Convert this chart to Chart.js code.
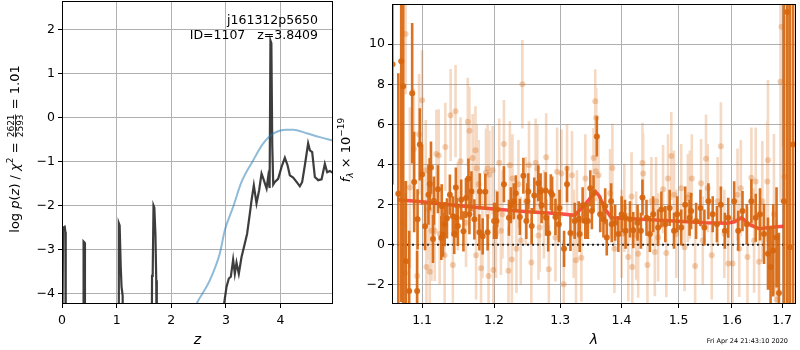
<!DOCTYPE html>
<html>
<head>
<meta charset="utf-8">
<script src="https://cdn.jsdelivr.net/npm/chart.js@4.4.0/dist/chart.umd.min.js"></script>
<style>
  body { margin: 0; background: #fff; }
  #wrap { position: relative; width: 800px; height: 350px; }
  canvas { position: absolute; top: 0; }
</style>
</head>
<body>
<div id="wrap">
  <canvas id="pz" width="340" height="350" style="left:0;width:340px;height:350px"></canvas>
  <canvas id="spec" width="470" height="350" style="left:330px;width:470px;height:350px"></canvas>
</div>
<script>
// ---- left panel: log p(z) ----
const zTicks = [0, 1, 2, 3, 4];
const logpTicks = [-4, -3, -2, -1, 0, 1, 2];

const zLine = [0, 0.015, 0.02, 0.05, 0.062, 0.068,
    0.385, 0.395, 0.41, 0.42,
    1.03, 1.04, 1.055, 1.075, 1.09, 1.11, 1.12,
    1.64, 1.648, 1.66, 1.675, 1.69, 1.71, 1.725, 1.735,
    2.95, 2.967, 3.011, 3.053, 3.09, 3.132, 3.163, 3.194, 3.236, 3.286, 3.346,
    3.388, 3.438, 3.469, 3.511, 3.56, 3.608, 3.652, 3.694, 3.744, 3.773, 3.80,
    3.815, 3.832, 3.848, 3.866, 3.896, 3.956, 4.018, 4.079, 4.128, 4.17, 4.231,
    4.293, 4.353, 4.396, 4.445, 4.505, 4.537, 4.579, 4.628, 4.689, 4.751, 4.811,
    4.853, 4.903, 4.963];
const logpLine = [-6, -6, -2.5, -2.48, -2.6, -6,
    -6, -2.82, -2.84, -6,
    -6, -2.4, -2.45, -3.4, -3.85, -4.05, -6,
    -6, -3.6, -3.55, -2.0, -2.05, -2.65, -3.7, -6,
    -6, -4.23, -3.85, -3.66, -3.62, -3.23, -3.55, -3.30, -3.55, -3.17, -2.86,
    -2.64, -2.18, -1.88, -1.54, -1.95, -1.65, -1.27, -1.42, -1.61, -1.35, -1.6,
    1.76, 1.7, -0.6, -1.52, -1.46, -1.39, -1.12, -0.91, -1.08, -1.31, -1.36,
    -1.46, -1.56, -1.46, -1.08, -0.58, -0.74, -0.78, -1.35, -1.42, -1.40, -1.05,
    -1.24, -1.21, -1.26];

const zPrior = [2.2, 2.46, 2.705, 2.888, 2.98, 3.132, 3.286, 3.498, 3.68, 3.864, 4.11, 4.23, 4.476, 4.72, 4.963];
const logPrior = [-5, -4.24, -3.70, -3.09, -2.56, -2.03, -1.46, -0.97, -0.59, -0.36, -0.27, -0.27, -0.35, -0.44, -0.52];

// ---- right panel: spectrum ----
const lamTicks = [1.1, 1.2, 1.3, 1.4, 1.5, 1.6, 1.7];
const fluxTicks = [-2, 0, 2, 4, 6, 8, 10];

const darkLam = [1.0613, 1.0688, 1.0726, 1.0752, 1.0787, 1.0830, 1.0869, 1.0895, 1.0934, 1.0970,
    1.1040, 1.1085, 1.1119, 1.1159, 1.1213, 1.1259, 1.1281, 1.1336, 1.1376, 1.1417,
    1.1458, 1.1486, 1.1533, 1.1564, 1.1634, 1.1676, 1.1718, 1.1789, 1.1836, 1.1874,
    1.1907, 1.2036, 1.2144, 1.2246, 1.2320, 1.2380, 1.2433, 1.2478, 1.2508, 1.2559,
    1.2598, 1.2659, 1.2710, 1.2772, 1.2812, 1.2853, 1.2925, 1.2988, 1.3060, 1.3107,
    1.3161, 1.3229, 1.3309, 1.3357, 1.3442, 1.3481, 1.3534, 1.3588, 1.3644, 1.3697,
    1.3752, 1.3825, 1.3892, 1.3946, 1.4002, 1.4069, 1.4144, 1.4200, 1.4274, 1.4332,
    1.4359, 1.4429, 1.4488, 1.4546, 1.4633, 1.4691, 1.4761, 1.4839, 1.4917, 1.4975,
    1.5048, 1.5120, 1.5200, 1.5229, 1.5321, 1.5402, 1.5476, 1.5551, 1.5632, 1.5712,
    1.5787, 1.5863, 1.5928, 1.6043, 1.6121, 1.6205, 1.6289, 1.6380, 1.6466, 1.6552,
    1.6632, 1.6712, 1.6765, 1.6819, 1.6886, 1.6935, 1.7037, 1.7104, 1.7160, 1.7227,
    // second pass over the blue-side half
    1.0940, 1.1000, 1.1102, 1.1146, 1.1265, 1.1304, 1.1436, 1.1469, 1.1600, 1.1648,
    1.1795, 1.2000, 1.2047, 1.2218, 1.2290, 1.2493, 1.2695, 1.2780, 1.2873, 1.2978,
    1.3293, 1.3400, 1.3507, 1.3726, 1.3835, 1.4059];
const darkFlux = [9.0, 2.55, 9.15, 7.9, -0.82, -2.3, 7.55, 3.13, -2.3, 5.0,
    0.93, 2.5, 3.85, 2.2, 2.77, 0.34, 0.5, 1.32, 2.5, 1.42,
    2.85, 0.94, 2.25, 0.67, 3.3, 2.66, 1.27, 0.62, 0.42, 2.64,
    0.62, 1.19, 3.02, 1.97, 2.57, 1.39, 3.44, 1.19, 2.66, 0.94,
    2.46, 3.07, 1.97, 2.71, 0.57, 2.62, 1.39, 1.84, -0.2, 3.02,
    0.59, 1.19, 0.54, 1.97, 1.19, 2.82, 2.57, 5.4, 1.52, 1.27,
    0.37, 2.17, 1.1, 0.54, 1.52, 0.7, 1.27, 0.73, 1.1, 0.7,
    2.36, 1.35, 0.54, 1.52, 0.86, 1.76, 1.03, 1.84, 0.7, 1.52,
    0.86, 2.0, 1.35, 1.68, 1.19, 1.84, 0.86, 2.17, 1.52, 1.03,
    2.0, 0.7, 1.35, 2.17, 0.7, 1.68, 1.03, 2.17, 1.35, 1.52,
    0.54, -0.44, -1.1, -0.28, 0.37, -2.4, 2.17, 11.6, -0.12, 5.0,
    1.27, 3.5, 3.03, 0.29, 1.92, 1.03, 0.54, 1.35, 2.33, 1.52,
    2.66, 1.19, 1.76, 1.35, 2.17, 2.17, 2.66, 1.35, 2.5, 1.03,
    1.27, 1.19, 1.68, 1.92, 1.03, 1.35];
const darkErr = [6, 6, 12, 11, 4, 3, 3.5, 2.5, 2, 1.8,
    1.2, 1.5, 1.3, 1.2, 1.2, 1.1, 1.1, 1.0, 1.0, 1.0,
    1.0, 1.0, 1.0, 1.0, 1.0, 1.0, 1.0, 0.9, 0.9, 0.9,
    0.9, 0.9, 0.9, 0.9, 0.9, 0.9, 0.9, 0.9, 0.9, 0.9,
    0.9, 0.9, 0.9, 0.9, 0.9, 0.9, 0.9, 0.9, 0.9, 0.9,
    0.9, 0.9, 0.9, 0.9, 0.9, 0.9, 0.9, 1.0, 0.9, 0.9,
    0.9, 0.9, 0.9, 0.9, 0.9, 0.9, 0.9, 0.9, 0.9, 0.9,
    0.9, 0.9, 0.9, 0.9, 0.9, 0.9, 0.9, 0.9, 0.9, 0.9,
    0.9, 0.9, 0.9, 0.9, 0.9, 0.9, 0.9, 0.9, 0.9, 0.9,
    0.9, 0.9, 1.0, 1.0, 1.0, 1.0, 1.0, 1.1, 1.2, 1.3,
    1.5, 1.8, 2, 2.3, 2.5, 3, 15, 15, 15, 20,
    1.5, 1.5, 1.3, 1.2, 1.1, 1.1, 1.0, 1.0, 1.0, 1.0,
    0.9, 0.9, 0.9, 0.9, 0.9, 0.9, 0.9, 0.9, 0.9, 0.9,
    0.9, 0.9, 0.9, 0.9, 0.9, 0.9];

const lightLam = [1.0744, 1.0774, 1.0783, 1.0839, 1.0891, 1.0934, 1.0960, 1.1000, 1.1049, 1.1058,
    1.1093, 1.1102, 1.1125, 1.1169, 1.1192, 1.1223, 1.1236, 1.1304, 1.1314, 1.1386,
    1.1417, 1.1454, 1.1486, 1.1523, 1.1600, 1.1625, 1.1648, 1.1694, 1.1733, 1.1742,
    1.1751, 1.1779, 1.1813, 1.1832, 1.1884, 1.1907, 1.1921, 1.1931, 1.1979, 1.1989,
    1.2028, 1.2075, 1.2100, 1.2123, 1.2144, 1.2211, 1.2232, 1.2261, 1.2270, 1.2329,
    1.2359, 1.2394, 1.2418, 1.2469, 1.2518, 1.2553, 1.2619, 1.2644, 1.2662, 1.2680,
    1.2746, 1.2781, 1.2822, 1.2925, 1.2951, 1.3019, 1.3055, 1.3107, 1.3186, 1.3213,
    1.3250, 1.3265, 1.3336, 1.3400, 1.3534, 1.3562, 1.3571, 1.3578, 1.3616, 1.3808,
    1.3846, 1.3880, 1.4002, 1.4047, 1.4115, 1.4171, 1.4183, 1.4251, 1.4285, 1.4359,
    1.4371, 1.4446, 1.4515, 1.4575, 1.4597, 1.4633, 1.4721, 1.4779, 1.4809, 1.4868,
    1.4917, 1.4958, 1.5048, 1.5109, 1.5169, 1.5206, 1.5242, 1.5303, 1.5413, 1.5445,
    1.5506, 1.5538, 1.5613, 1.5725, 1.5787, 1.5853, 1.5928, 1.6011, 1.6108, 1.6141,
    1.6172, 1.6302, 1.6380, 1.6434, 1.6466, 1.6533, 1.6598, 1.6698, 1.6712, 1.6833,
    1.6886, 1.6967, 1.6987, 1.7049];
const lightFlux = [1.1, -1.42, 10.5, 2.85, 4.78, -1.55, 5.51, 7.2, 3.72, -1.1,
    1.76, -1.34, 0.7, 0.7, 4.53, 4.45, 0.54, -0.52, 4.88, 6.46,
    -1.01, 6.66, 1.92, 4.16, 1.1, 6.13, 5.68, 4.32, 4.71, -0.52,
    3.82, 3.02, -1.17, 0.54, 3.6, 3.8, -1.55, 3.49, 3.72, -1.26,
    0.54, 4.09, 0.7, 1.52, 5.02, -1.29, 3.96, -0.73, 3.31, -0.2,
    3.02, 0.21, 8.0, 2.17, 3.96, -0.88, 4.09, 3.8, 0.46, 0.86,
    1.52, 4.36, -1.22, 0.37, 3.64, 3.55, -1.96, 3.8, 3.47, 0.54,
    -0.77, 1.52, -0.64, 3.31, 4.32, 7.15, 3.67, 6.33, 3.47, 2.57,
    3.83, -0.2, 0.54, 1.84, -0.61, 2.41, -1.1, 0.46, -0.44, 4.08,
    3.55, -1.01, 2.17, -0.36, 2.17, 0.37, 2.77, -0.41, 3.31, 4.42,
    2.5, 0.54, 2.82, -0.12, 2.33, 2.5, 3.31, -1.06, 3.07, 0.21,
    4.29, 2.82, -0.52, 2.17, 4.91, 0.54, -0.93, -0.93, 2.5, -0.2,
    2.82, -0.61, 3.34, 0.21, 3.15, -0.85, 2.17, 3.15, 4.21, 1.52,
    -2.73, 8.12, 10.87, 3.39];
const lightErr = [5, 4, 3, 4, 3, 3, 3, 2.5, 2.5, 2.6,
    2.5, 2.5, 2.5, 2.5, 2.2, 2.3, 2.5, 2.4, 2.2, 2.3,
    2.3, 2.3, 2.2, 2.2, 2.2, 2.2, 2.2, 2.2, 2.2, 2.2,
    2.2, 2.2, 2.2, 2.2, 2.2, 2.2, 2.2, 2.2, 2.2, 2.2,
    2.2, 2.2, 2.2, 2.2, 2.2, 2.2, 2.2, 2.2, 2.2, 2.2,
    2.2, 2.2, 2.2, 2.2, 2.2, 2.2, 2.2, 2.2, 2.2, 2.2,
    2.2, 2.2, 2.2, 2.2, 2.2, 2.2, 2.2, 2.2, 2.2, 2.2,
    2.2, 2.2, 2.2, 2.2, 1.5, 1.6, 1.5, 1.5, 2, 2.2,
    2.2, 2.2, 2.2, 2.2, 2.2, 2.2, 2.2, 2.2, 2.2, 2.0,
    2.0, 2.2, 2.2, 2.2, 2.2, 2.2, 2.2, 2.2, 2.2, 2.2,
    2.2, 2.2, 2.2, 2.2, 2.2, 2.2, 2.2, 2.2, 2.2, 2.2,
    2.2, 2.2, 2.2, 2.2, 2.2, 2.2, 2.3, 2.3, 2.3, 2.4,
    2.4, 2.5, 2.5, 2.6, 2.7, 2.8, 3, 3, 4, 4,
    4, 6, 6, 8];

const modelLam = [1.068, 1.1, 1.15, 1.2, 1.25, 1.3, 1.3229, 1.338, 1.3566, 1.3625, 1.372, 1.383,
    1.4, 1.45, 1.5, 1.55, 1.59, 1.605, 1.6185, 1.635, 1.654, 1.67, 1.69, 1.704];
const modelFlux = [2.25, 2.15, 1.95, 1.78, 1.65, 1.55, 1.47, 1.95, 2.65, 2.45, 1.8, 1.35,
    1.32, 1.25, 1.17, 1.1, 1.07, 1.15, 1.35, 1.0, 0.8, 0.85, 0.9, 0.92];
const zeroLam = [1.0607, 1.705];

const orangeDark = 'rgba(215,102,14,0.92)';
const orangeLight = 'rgba(215,102,14,0.25)';

Chart.defaults.font.family = 'DejaVu Sans';
Chart.defaults.font.size = 12.5;
Chart.defaults.color = '#000';

function pairs(xs, ys) {
    return xs.map((x, i) => ({ x: x, y: ys[i] }));
}

function errSegments(xs, ys, es) {
    const out = [];
    xs.forEach((x, i) => {
        out.push({ x: x, y: ys[i] - es[i] }, { x: x, y: ys[i] + es[i] }, { x: x, y: NaN });
    });
    return out;
}

function minusLabel(v) {
    return v < 0 ? '\u2212' + Math.abs(v) : String(v);
}

function axisGrid() {
    return { color: '#b0b0b0', lineWidth: 1, tickColor: '#000', tickLength: 4, tickWidth: 1 };
}

// fixed axis boxes so the plot areas sit where the reference has them
function fixX(s) {
    s.height = 46;
    s.paddingLeft = 0;
    s.paddingRight = 0;
}
function fixY(s) {
    s.width = 62;
    s.paddingTop = 0;
    s.paddingBottom = 0;
}

// draws a rotated title made of pieces (sub/superscripts and a fraction)
function drawVertical(ctx, x, yc, parts) {
    ctx.save();
    let total = 0;
    parts.forEach(p => {
        ctx.font = (p.italic ? 'italic ' : '') + (p.size || 13) + 'px DejaVu Sans';
        if (p.frac) {
            p.w = Math.max(ctx.measureText(p.frac[0]).width, ctx.measureText(p.frac[1]).width) + 2;
        } else {
            p.w = ctx.measureText(p.t).width;
        }
        total += p.w;
    });
    ctx.translate(x, yc);
    ctx.rotate(-Math.PI / 2);
    ctx.fillStyle = '#000';
    ctx.textBaseline = 'alphabetic';
    let cx = -total / 2;
    parts.forEach(p => {
        ctx.font = (p.italic ? 'italic ' : '') + (p.size || 13) + 'px DejaVu Sans';
        if (p.frac) {
            ctx.textAlign = 'center';
            ctx.fillText(p.frac[0], cx + p.w / 2, -5);
            ctx.fillText(p.frac[1], cx + p.w / 2, 4);
            ctx.fillRect(cx + 1, -4, p.w - 2, 0.8);
            ctx.textAlign = 'left';
        } else {
            ctx.textAlign = 'left';
            ctx.fillText(p.t, cx, p.dy || 0);
        }
        cx += p.w;
    });
    ctx.restore();
}

const framePlugin = {
    id: 'frame',
    afterDatasetsDraw(chart) {
        const { ctx, chartArea: a } = chart;
        ctx.save();
        ctx.strokeStyle = '#000';
        ctx.lineWidth = 1;
        ctx.strokeRect(a.left + 0.5, a.top + 0.5, a.right - a.left - 1, a.bottom - a.top - 1);
        ctx.restore();
    }
};

// ---- left chart ----
new Chart(document.getElementById('pz'), {
    type: 'scatter',
    data: {
        datasets: [
            {
                data: pairs(zPrior, logPrior),
                showLine: true,
                borderColor: 'rgba(31,119,180,0.5)',
                borderWidth: 2,
                pointRadius: 0,
                cubicInterpolationMode: 'monotone'
            },
            {
                data: pairs(zLine, logpLine),
                showLine: true,
                borderColor: 'rgba(40,40,40,0.9)',
                borderWidth: 2.2,
                pointRadius: 0,
                tension: 0
            }
        ]
    },
    options: {
        responsive: false,
        animation: false,
        devicePixelRatio: 1,
        layout: { padding: { top: 1, right: 7, left: 0, bottom: 0 } },
        plugins: { legend: { display: false }, tooltip: { enabled: false } },
        scales: {
            x: {
                type: 'linear',
                min: 0,
                max: 4.96,
                grid: axisGrid(),
                border: { display: false },
                afterBuildTicks: s => { s.ticks = zTicks.map(v => ({ value: v })); },
                afterFit: fixX,
                ticks: { padding: 5, maxRotation: 0, callback: v => minusLabel(v) },
                title: { display: true, text: 'z', font: { style: 'italic', size: 14 }, padding: { top: 0, bottom: 1 } }
            },
            y: {
                type: 'linear',
                min: -4.24,
                max: 2.66,
                grid: axisGrid(),
                border: { display: false },
                afterBuildTicks: s => { s.ticks = logpTicks.map(v => ({ value: v })); },
                afterFit: fixY,
                ticks: { padding: 3, callback: v => minusLabel(v) }
            }
        }
    },
    plugins: [framePlugin, {
        id: 'pzText',
        afterDraw(chart) {
            const ctx = chart.ctx;
            ctx.save();
            ctx.fillStyle = '#000';
            ctx.font = '12.5px DejaVu Sans';
            ctx.textAlign = 'right';
            ctx.fillText('j161312p5650', 318, 24);
            ctx.fillText('ID=1107   z=3.8409', 318, 38.5);
            ctx.restore();
            drawVertical(ctx, 19, 149, [
                { t: 'log ' },
                { t: 'p', italic: true },
                { t: '(' },
                { t: 'z', italic: true },
                { t: ') / ' },
                { t: '\u03c7', italic: true },
                { t: '2', size: 9, dy: -6 },
                { t: ' = ' },
                { frac: ['2621', '2593'], size: 9 },
                { t: ' = 1.01' }
            ]);
        }
    }]
});

// ---- right chart ----
new Chart(document.getElementById('spec'), {
    type: 'scatter',
    data: {
        datasets: [
            {
                data: errSegments(lightLam, lightFlux, lightErr),
                showLine: true,
                spanGaps: false,
                borderColor: orangeLight,
                borderWidth: 2.6,
                pointRadius: 0
            },
            {
                data: pairs(lightLam, lightFlux),
                showLine: false,
                backgroundColor: 'rgba(215,102,14,0.3)',
                borderWidth: 0,
                pointRadius: 3
            },
            {
                data: errSegments(darkLam, darkFlux, darkErr),
                showLine: true,
                spanGaps: false,
                borderColor: orangeDark,
                borderWidth: 2.6,
                pointRadius: 0
            },
            {
                data: pairs(darkLam, darkFlux),
                showLine: false,
                backgroundColor: orangeDark,
                borderWidth: 0,
                pointRadius: 3
            },
            {
                data: pairs(modelLam, modelFlux),
                showLine: true,
                borderColor: 'rgba(255,0,0,0.7)',
                borderWidth: 3.5,
                pointRadius: 0,
                tension: 0
            },
            {
                data: pairs(zeroLam, [0, 0]),
                showLine: true,
                borderColor: 'rgba(0,0,0,0.85)',
                borderWidth: 2,
                borderDash: [2, 3],
                pointRadius: 0
            }
        ]
    },
    options: {
        responsive: false,
        animation: false,
        devicePixelRatio: 1,
        layout: { padding: { top: 1, right: 1, left: 0, bottom: 0 } },
        plugins: { legend: { display: false }, tooltip: { enabled: false } },
        scales: {
            x: {
                type: 'logarithmic',
                min: 1.0607,
                max: 1.7288,
                grid: axisGrid(),
                border: { display: false },
                afterBuildTicks: s => { s.ticks = lamTicks.map(v => ({ value: v })); },
                afterFit: fixX,
                ticks: { padding: 5, maxRotation: 0, autoSkip: false, callback: v => v.toFixed(1) },
                title: { display: true, text: '\u03bb', font: { style: 'italic', size: 14 }, padding: { top: 0, bottom: 1 } }
            },
            y: {
                type: 'linear',
                min: -2.95,
                max: 12.0,
                grid: axisGrid(),
                border: { display: false },
                afterBuildTicks: s => { s.ticks = fluxTicks.map(v => ({ value: v })); },
                afterFit: fixY,
                ticks: { padding: 3, callback: v => minusLabel(v) }
            }
        }
    },
    plugins: [framePlugin, {
        id: 'specText',
        afterDraw(chart) {
            const ctx = chart.ctx;
            drawVertical(ctx, 20, 150, [
                { t: 'f', italic: true },
                { t: '\u03bb', italic: true, size: 9, dy: 3 },
                { t: ' \u00d7 10' },
                { t: '\u221219', size: 9, dy: -6 }
            ]);
            ctx.save();
            ctx.fillStyle = '#000';
            ctx.font = '6.5px DejaVu Sans';
            ctx.textAlign = 'right';
            ctx.fillText('Fri Apr 24 21:43:10 2020', 458, 343);
            ctx.restore();
        }
    }]
});
</script>
</body>
</html>
